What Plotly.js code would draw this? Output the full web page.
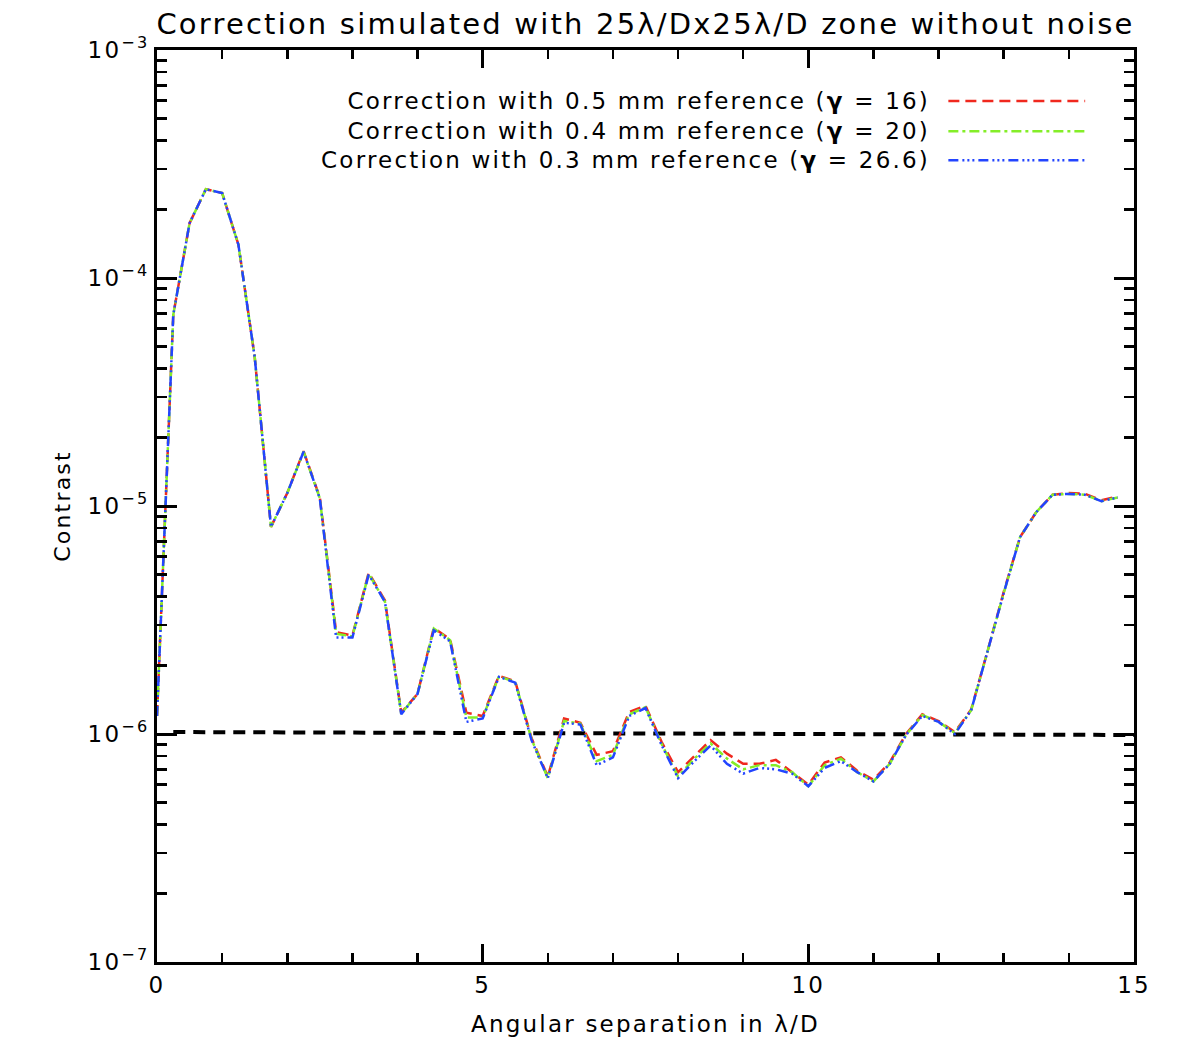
<!DOCTYPE html>
<html>
<head>
<meta charset="utf-8">
<script src="https://cdn.plot.ly/plotly-3.0.1.min.js"></script>
<style>
  html, body { margin: 0; padding: 0; background: #fff; }
  #plot { width: 1179px; height: 1062px; }
  /* the original uses a wide, loosely spaced vector font */
  #plot text { letter-spacing: 2.2px; }
</style>
</head>
<body>
<div id="plot"></div>
<script>
// angular separation (lambda/D), sampled every 0.25
const separation = [
  0, 0.25, 0.5, 0.75, 1, 1.25, 1.5, 1.75, 2, 2.25,
  2.5, 2.75, 3, 3.25, 3.5, 3.75, 4, 4.25, 4.5, 4.75,
  5, 5.25, 5.5, 5.75, 6, 6.25, 6.5, 6.75, 7, 7.25,
  7.5, 7.75, 8, 8.25, 8.5, 8.75, 9, 9.25, 9.5, 9.75,
  10, 10.25, 10.5, 10.75, 11, 11.25, 11.5, 11.75, 12, 12.25,
  12.5, 12.75, 13, 13.25, 13.5, 13.75, 14, 14.25, 14.5, 14.75
];

// contrast, 0.5 mm reference (gamma = 16)
const contrast05 = [
  1.2e-6, 6.9e-5, 1.74e-4, 2.45e-4, 2.36e-4, 1.40e-4, 4.5e-5, 8.1e-6, 1.14e-5, 1.74e-5,
  1.09e-5, 2.8e-6, 2.7e-6, 5.1e-6, 3.85e-6, 1.24e-6, 1.5e-6, 2.92e-6, 2.6e-6, 1.24e-6,
  1.2e-6, 1.8e-6, 1.7e-6, 9.6e-7, 6.5e-7, 1.17e-6, 1.12e-6, 8.1e-7, 8.4e-7, 1.25e-6,
  1.33e-6, 9.2e-7, 6.8e-7, 8.0e-7, 9.4e-7, 8.2e-7, 7.4e-7, 7.4e-7, 7.7e-7, 6.8e-7,
  6.0e-7, 7.5e-7, 7.9e-7, 6.9e-7, 6.3e-7, 7.5e-7, 1.0e-6, 1.22e-6, 1.14e-6, 1.02e-6,
  1.28e-6, 2.3e-6, 4.2e-6, 7.3e-6, 9.4e-6, 1.12e-5, 1.14e-5, 1.13e-5, 1.06e-5, 1.1e-5
];

// contrast, 0.4 mm reference (gamma = 20)
const contrast04 = [
  1.2e-6, 6.9e-5, 1.74e-4, 2.45e-4, 2.36e-4, 1.40e-4, 4.5e-5, 8.1e-6, 1.14e-5, 1.73e-5,
  1.08e-5, 2.75e-6, 2.68e-6, 5.05e-6, 3.8e-6, 1.23e-6, 1.5e-6, 2.9e-6, 2.58e-6, 1.18e-6,
  1.18e-6, 1.79e-6, 1.69e-6, 9.5e-7, 6.4e-7, 1.14e-6, 1.11e-6, 7.6e-7, 8.1e-7, 1.22e-6,
  1.31e-6, 9.0e-7, 6.5e-7, 7.8e-7, 9.1e-7, 7.8e-7, 7.0e-7, 7.3e-7, 7.3e-7, 6.8e-7,
  5.9e-7, 7.3e-7, 7.8e-7, 6.8e-7, 6.2e-7, 7.4e-7, 9.9e-7, 1.21e-6, 1.13e-6, 1.01e-6,
  1.27e-6, 2.3e-6, 4.15e-6, 7.3e-6, 9.4e-6, 1.12e-5, 1.13e-5, 1.12e-5, 1.05e-5, 1.09e-5
];

// contrast, 0.3 mm reference (gamma = 26.6)
const contrast03 = [
  1.2e-6, 6.9e-5, 1.74e-4, 2.45e-4, 2.36e-4, 1.40e-4, 4.5e-5, 8.1e-6, 1.14e-5, 1.73e-5,
  1.08e-5, 2.65e-6, 2.65e-6, 5.0e-6, 3.8e-6, 1.22e-6, 1.5e-6, 2.85e-6, 2.55e-6, 1.13e-6,
  1.17e-6, 1.78e-6, 1.68e-6, 9.4e-7, 6.4e-7, 1.12e-6, 1.1e-6, 7.3e-7, 7.9e-7, 1.2e-6,
  1.3e-6, 8.9e-7, 6.4e-7, 7.6e-7, 8.9e-7, 7.4e-7, 6.7e-7, 7.1e-7, 7.0e-7, 6.7e-7,
  5.9e-7, 7.1e-7, 7.6e-7, 6.8e-7, 6.2e-7, 7.4e-7, 9.9e-7, 1.2e-6, 1.13e-6, 1.0e-6,
  1.27e-6, 2.3e-6, 4.15e-6, 7.3e-6, 9.4e-6, 1.12e-5, 1.13e-5, 1.12e-5, 1.05e-5, 1.09e-5
];

// black dashed level
const levelX = [0.25, 15];
const levelY = [1.02e-6, 0.99e-6];

const legendNames = [
  "Correction with 0.5 mm reference (<b>γ</b> = 16)",
  "Correction with 0.4 mm reference (<b>γ</b> = 20)",
  "Correction with 0.3 mm reference (<b>γ</b> = 26.6)"
];
const colors = ["#f0281e", "#84ee28", "#2244ff"];
const dashes = ["11px,6px", "10px,4px,3px,4px", "10px,4px,2px,3px,2px,3px,2px,4px"];

const yTickVals = [1e-7, 1e-6, 1e-5, 1e-4, 1e-3];
const yTickText = ["10<sup>−7</sup>", "10<sup>−6</sup>", "10<sup>−5</sup>", "10<sup>−4</sup>", "10<sup>−3</sup>"];
const xTickVals = [0, 5, 10, 15];

const font = { family: "DejaVu Sans, sans-serif", color: "#000" };

const series = [contrast05, contrast04, contrast03];
const traces = [{
  x: levelX, y: levelY, type: "scatter", mode: "lines",
  line: { color: "#000", width: 4, dash: "12px,8px" },
  showlegend: false, hoverinfo: "skip"
}];
series.forEach((ys, i) => {
  traces.push({
    x: separation, y: ys, type: "scatter", mode: "lines",
    name: legendNames[i],
    line: { color: colors[i], width: 2.5, dash: dashes[i] },
    showlegend: false
  });
});

// legend drawn like the original: text right-aligned, sample line on the right
const legendY = [0.944, 0.911, 0.879];
const annotations = legendNames.map((t, i) => ({
  xref: "paper", yref: "paper", x: 0.793, y: legendY[i],
  xanchor: "right", yanchor: "middle", showarrow: false,
  width: 660, align: "right",
  text: t, font: { ...font, size: 23 }
}));
const shapes = legendNames.map((t, i) => ({
  type: "line", xref: "paper", yref: "paper",
  x0: 0.81, x1: 0.95, y0: legendY[i], y1: legendY[i],
  line: { color: colors[i], width: 2.5, dash: dashes[i] }
}));

const axisCommon = {
  showline: true, linecolor: "#000", linewidth: 3, mirror: "allticks",
  ticks: "inside", tickwidth: 3, tickcolor: "#000",
  showgrid: false, zeroline: false,
  tickfont: { ...font, size: 23 }
};

const layout = {
  width: 1179, height: 1062,
  margin: { l: 157, r: 45, t: 50, b: 100 },
  paper_bgcolor: "#fff", plot_bgcolor: "#fff",
  font: font,
  title: {
    text: "Correction simulated with 25λ/Dx25λ/D zone without noise",
    font: { ...font, size: 29 }, xref: "paper", x: 0.5, xanchor: "center", y: 0.978, yanchor: "middle"
  },
  xaxis: {
    ...axisCommon,
    range: [0, 15], tickmode: "array", tickvals: xTickVals, ticklen: 18,
    minor: { ticks: "inside", ticklen: 9, tickwidth: 2.5, tickcolor: "#000", dtick: 1, tick0: 0, showgrid: false },
    title: { text: "Angular separation in λ/D", font: { ...font, size: 23 }, standoff: 20 }
  },
  yaxis: {
    ...axisCommon,
    type: "log", range: [-7, -3], tickmode: "array", tickvals: yTickVals, ticktext: yTickText, ticklen: 20,
    minor: { ticks: "inside", ticklen: 10, tickwidth: 2.5, tickcolor: "#000", dtick: "D1", showgrid: false },
    title: { text: "Contrast", font: { ...font, size: 22 }, standoff: 20 }
  },
  annotations: annotations,
  shapes: shapes,
  showlegend: false
};

Plotly.newPlot("plot", traces, layout, { displayModeBar: false, staticPlot: true });
</script>
</body>
</html>
